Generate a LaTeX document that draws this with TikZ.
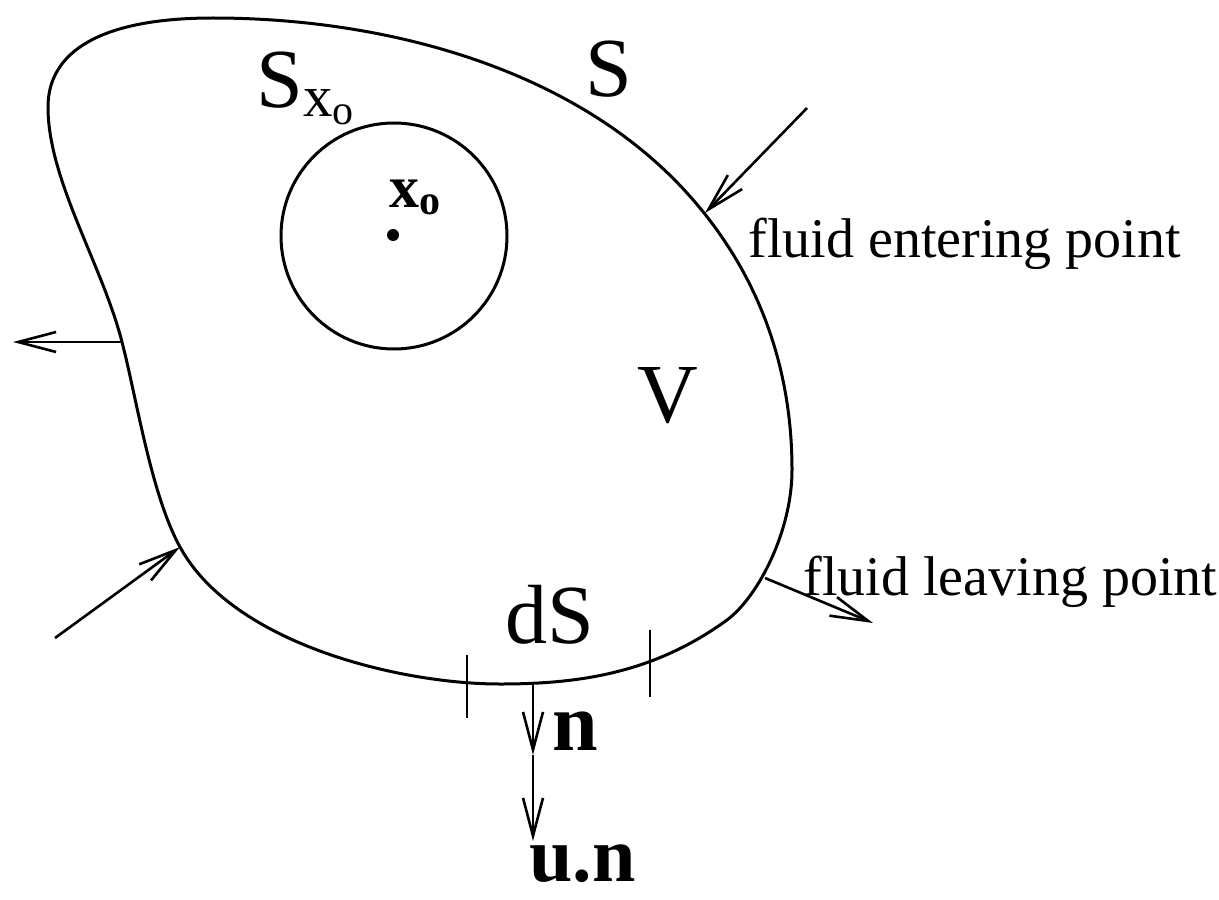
\documentclass[tikz,border=0pt]{standalone}
\usepackage{fontspec}
\setmainfont{Liberation Serif}
\usetikzlibrary{arrows.meta}

\begin{document}
\begin{tikzpicture}[
    x=0.5pt, y=-0.5pt,
    >={Straight Barb[length=19pt,width=10pt]},
    bnd/.style={line width=1.5pt},
    flow/.style={->, line width=1.3pt},
    tickmark/.style={line width=1.3pt},
    big/.style={inner sep=0pt, font=\fontsize{42}{48}\selectfont},
    bold/.style={inner sep=0pt, font=\fontsize{41}{48}\selectfont\bfseries},
    note/.style={inner sep=0pt, font=\fontsize{28}{32}\selectfont}
  ]
  \useasboundingbox (0,0) rectangle (1219,899);

  % --- control surface S around volume V ---
  \draw[bnd] (48,107) .. controls (48,52) and (100,18) .. (213,18)
             .. controls (383,18) and (573,67) .. (687,193)
             .. controls (754,267) and (792,360) .. (792,470)
             .. controls (792,530) and (759,596) .. (727,620)
             .. controls (654,673) and (580,684) .. (500,684)
             .. controls (400,684) and (233,644) .. (180,547)
             .. controls (151,494) and (137,400) .. (122,342)
             .. controls (102,264) and (48,180) .. cycle;

  % --- small sphere round x_o ---
  \node[circle, draw, bnd, minimum size=113pt, inner sep=0pt] (ball) at (394,236) {};
  \node[circle, fill, minimum size=6pt, inner sep=0pt] (dot) at (393,235) {};

  % labels
  \node[big] (S) at (609,69) {S};
  \node[big] (V) at (668,396) {V};
  \node[big, anchor=base] (dS) at (550,643) {dS};
  \node[big, anchor=base west] (Sxo) at (256,107) {$\mathrm{S}_{\mathrm{x}_{\mathrm{o}}}$};
  \node[inner sep=0pt, font=\fontsize{30}{34}\selectfont, anchor=base west] (xo)
       at (389,207) {$\mathbf{x}_{\mathbf{o}}$};

  % --- flow through the surface ---
  \coordinate (inA)    at (807,108);
  \coordinate (inAtip) at (705,213);
  \coordinate (outL)    at (122,342);
  \coordinate (outLtip) at (13,342);
  \coordinate (inB)    at (55,638);
  \coordinate (inBtip) at (180,547);
  \coordinate (outR)    at (765,578);
  \coordinate (outRtip) at (873,623);

  \draw[flow] (inA) -- (inAtip);
  \draw[flow] (outL) -- (outLtip);
  \draw[flow] (inB) -- (inBtip);
  \draw[flow] (outR) -- (outRtip);

  \node[note, anchor=base west] (enter) at (748,257) {fluid entering point};
  \node[note, anchor=base west] (leave) at (803,595) {fluid leaving point};

  % --- surface element dS with normal ---
  \coordinate (t1a) at (467,655);
  \coordinate (t1b) at (467,718);
  \coordinate (t2a) at (650,630);
  \coordinate (t2b) at (650,697);
  \draw[tickmark] (t1a) -- (t1b);
  \draw[tickmark] (t2a) -- (t2b);

  \coordinate (nbase) at (533,683);
  \coordinate (ntip)  at (533,755);
  \coordinate (untip) at (533,841);
  \draw[flow] (nbase) -- (ntip);
  \draw[flow] (ntip) -- (untip);

  \node[bold, anchor=base west] (n)  at (552,750) {n};
  \node[bold, font=\fontsize{39}{46}\selectfont\bfseries, anchor=base west]
       (un) at (529,881) {u.n};

\end{tikzpicture}
\end{document}
